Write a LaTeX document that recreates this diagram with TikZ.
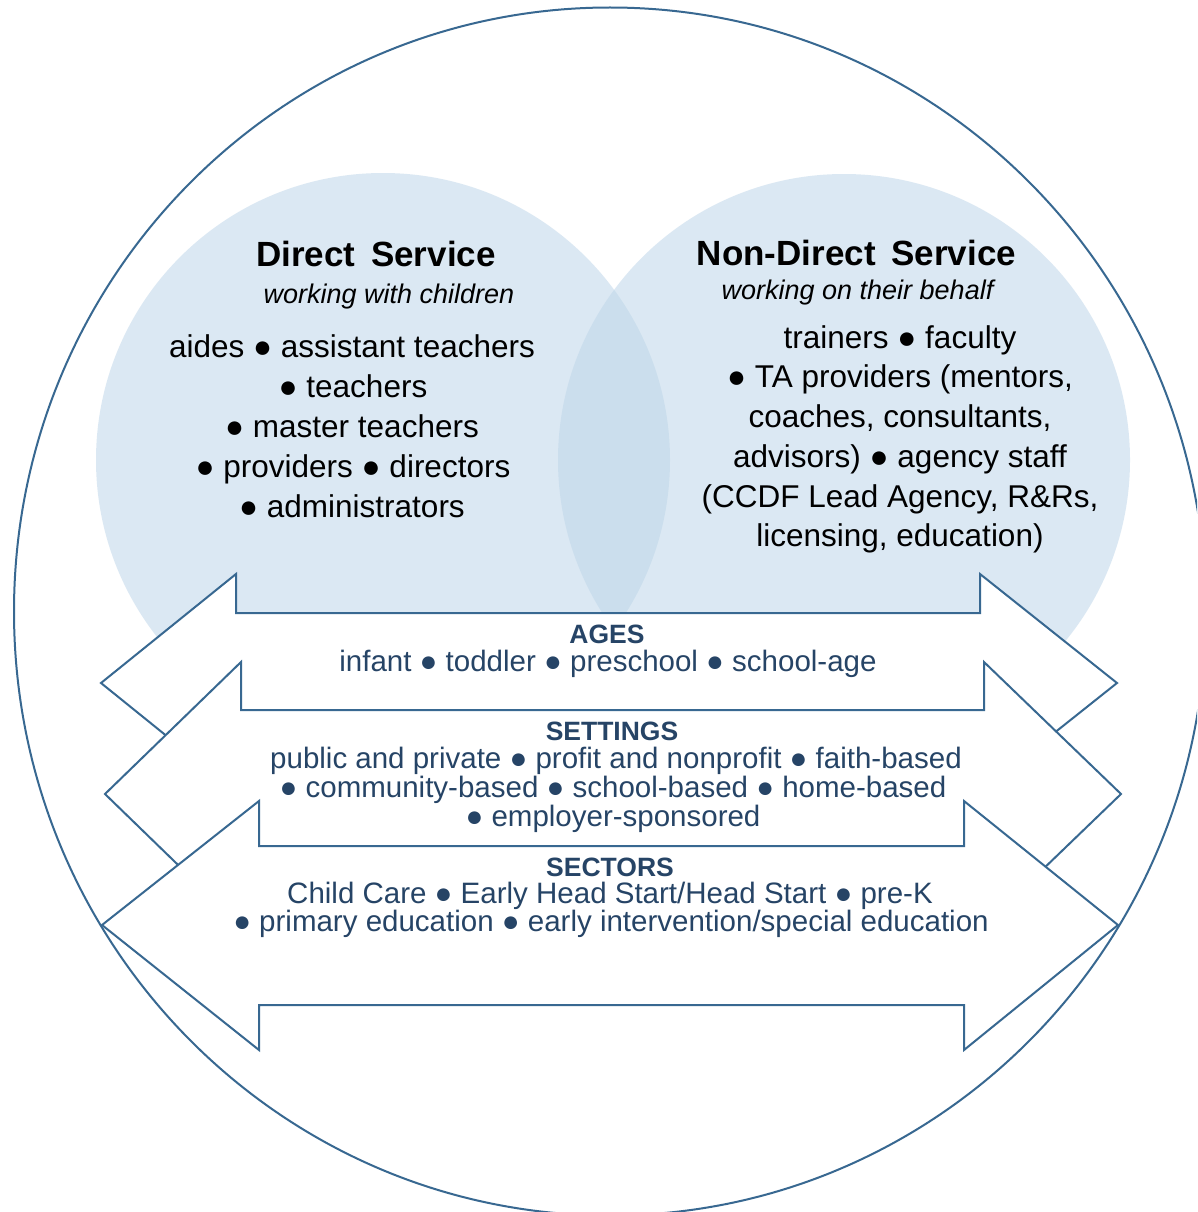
\documentclass[tikz,border=0pt]{standalone}
\usepackage{fontspec}
\setmainfont{Liberation Sans}
\definecolor{edge}{RGB}{56,104,145}
\definecolor{navy}{RGB}{38,68,102}
\definecolor{lblue}{RGB}{190,214,233}
\begin{document}
\begin{tikzpicture}[x=1pt,y=-1pt,
  blob/.style={fill=lblue, fill opacity=0.54, draw=none},
  band/.style={draw=edge, line width=2pt, fill=white, line join=miter},
  ring/.style={draw=edge, line width=2pt},
  title/.style={font=\fontsize{35}{40}\selectfont\bfseries, text=black, anchor=base, inner sep=0pt},
  sub/.style={font=\fontsize{27}{32}\selectfont\itshape, text=black, anchor=base, inner sep=0pt},
  body/.style={font=\fontsize{31.5}{40}\selectfont, text=black, anchor=base, inner sep=0pt},
  ahead/.style={font=\fontsize{26.5}{30}\selectfont\bfseries, text=navy, anchor=base, inner sep=0pt},
  atext/.style={font=\fontsize{29.5}{30}\selectfont, text=navy, anchor=base, inner sep=0pt}]
\useasboundingbox (0,0) rectangle (1197,1212);
\clip (0,0) rectangle (1197,1212);
\fill[white] (0,0) rectangle (1197,1212);

% two overlapping circles
\path[blob] (383,460) circle[radius=287];
\path[blob] (844,460) circle[radius=286];

% three double-headed band arrows
\path[band] (101,683) -- (236,574) -- (236,613) -- (980,613) -- (980,574) -- (1117,683)
  -- (980,792) -- (980,753) -- (236,753) -- (236,792) -- cycle;
\path[band] (105,794) -- (241,662) -- (241,710) -- (984,710) -- (984,662) -- (1121,794)
  -- (984,926) -- (984,878) -- (241,878) -- (241,926) -- cycle;
\path[band] (102,925) -- (259,801) -- (259,846) -- (964,846) -- (964,801) -- (1118,925)
  -- (964,1050) -- (964,1005) -- (259,1005) -- (259,1050) -- cycle;

% outer ring
\path[ring] (610,611.5) ellipse[x radius=596, y radius=604];

% left circle text
\node[title] (dtitle) at (376,266) {Direct\hspace{0.45em}Service};
\node[sub] (dsub) at (389,303) {working with children};
\node[body] (d1) at (352,357) {aides ● assistant teachers};
\node[body] (d2) at (353,397) {● teachers};
\node[body] (d3) at (352,437) {● master teachers};
\node[body] (d4) at (353,477) {● providers ● directors};
\node[body] (d5) at (352,517) {● administrators};

% right circle text
\node[title] (ntitle) at (856.5,265) {Non-Direct\hspace{0.45em}Service};
\node[sub] (nsub) at (857.5,299) {working on their behalf};
\node[body] (n1) at (900,348) {trainers ● faculty};
\node[body] (n2) at (900,387) {● TA providers (mentors,};
\node[body] (n3) at (900,427) {coaches, consultants,};
\node[body] (n4) at (900,467) {advisors) ● agency staff};
\node[body] (n5) at (900,507) {(CCDF Lead Agency, R\&Rs,};
\node[body] (n6) at (900,546) {licensing, education)};

% arrow texts
\node[ahead] (a0) at (607,643) {AGES};
\node[atext] (a1) at (608,671) {infant ● toddler ● preschool ● school-age};
\node[ahead] (s0) at (612,740) {SETTINGS};
\node[atext] (s1) at (616,768) {public and private ● profit and nonprofit ● faith-based};
\node[atext] (s2) at (613,797) {● community-based ● school-based ● home-based};
\node[atext] (s3) at (613,826) {● employer-sponsored};
\node[ahead] (c0) at (610,876) {SECTORS};
\node[atext] (c1) at (610,903) {Child Care ● Early Head Start/Head Start ● pre-K};
\node[atext] (c2) at (611,931) {● primary education ● early intervention/special education};
\end{tikzpicture}
\end{document}
